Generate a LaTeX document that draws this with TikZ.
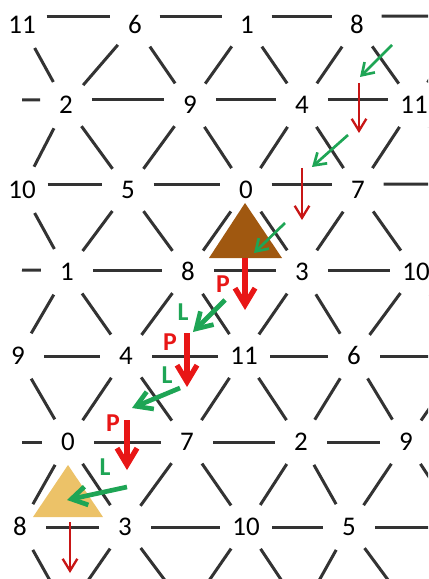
\documentclass[tikz,border=0pt]{standalone}
\usepackage{fontspec}
\setmainfont{Carlito}
\usetikzlibrary{arrows.meta}
\definecolor{lgreen}{RGB}{30,165,85}
\definecolor{pred}{RGB}{232,22,22}
\definecolor{dred}{RGB}{200,22,22}
\definecolor{chordbrown}{RGB}{160,88,16}
\definecolor{chordgold}{RGB}{236,194,104}
\tikzset{
  pc/.style     = {circle, inner sep=0pt, minimum size=15.6mm,
                   font=\fontsize{23}{23}\selectfont, text height=5.2mm, text depth=0pt},
  link/.style   = {line width=0.9mm, black!80},
  lthin/.style  = {lgreen, line width=0.8mm, -{Straight Barb[length=3.4mm,width=4.4mm]}},
  pthin/.style  = {dred, line width=0.7mm, -{Straight Barb[length=3.6mm,width=4.4mm]}},
  lthick/.style = {lgreen, line width=1.4mm, -{Straight Barb[length=4.6mm,width=5.6mm]}},
  pthick/.style = {pred, line width=1.6mm, -{Straight Barb[length=5mm,width=6mm]}},
  plab/.style   = {font=\fontsize{22}{22}\selectfont\bfseries, text=pred, inner sep=0pt},
  llab/.style   = {font=\fontsize{22}{22}\selectfont\bfseries, text=lgreen, inner sep=0pt},
}

\begin{document}
\begin{tikzpicture}[x=0.3mm,y=-0.3mm]
\useasboundingbox (0,0) rectangle (428,579);
\clip (0,0) rectangle (428,579);
% ---------- pitch classes ----------
\node[pc] (n00) at (22,25)  {11};
\node[pc] (n01) at (135,25) {6};
\node[pc] (n02) at (247,25) {1};
\node[pc] (n03) at (357,25) {8};
\coordinate (n04) at (468,16);
\node[pc] (n10) at (66,105)  {2};
\node[pc] (n11) at (190,105) {9};
\node[pc] (n12) at (302,105) {4};
\node[pc] (n13) at (414,105) {11};
\coordinate (s1) at (22,100);
\node[pc] (n20) at (22,190)  {10};
\node[pc] (n21) at (128,190) {5};
\node[pc] (n22) at (246,190) {0};
\node[pc] (n23) at (358,190) {7};
\coordinate (n24) at (470,184);
\node[pc] (n30) at (67,272)  {1};
\node[pc] (n31) at (188,272) {8};
\node[pc] (n32) at (302,272) {3};
\node[pc] (n33) at (416,272) {10};
\coordinate (s3) at (22,270);
\node[pc] (n40) at (18,356)  {9};
\node[pc] (n41) at (126,356) {4};
\node[pc] (n42) at (244,356) {11};
\node[pc] (n43) at (354,356) {6};
\coordinate (n44) at (466,356);
\node[pc] (n50) at (68,442)  {0};
\node[pc] (n51) at (187,442) {7};
\node[pc] (n52) at (301,442) {2};
\node[pc] (n53) at (406,442) {9};
\coordinate (s5) at (22,442);
\node[pc] (n60) at (20,527)  {8};
\node[pc] (n61) at (125,527) {3};
\node[pc] (n62) at (246,527) {10};
\node[pc] (n63) at (349,527) {5};
\coordinate (n64) at (462,527);
\coordinate (n70) at (67,611);
\coordinate (n71) at (188,611);
\coordinate (n72) at (302,611);
\coordinate (n73) at (411,611);
% ---------- lattice ----------
\foreach \r/\t/\u in {0/20/160,1/11/169,2/13/167,3/4/176,4/0/180,5/0/180,6/0/180}
  \foreach \c/\k in {0/1,1/2,2/3}
    \draw[link] (n\r\c.\t) -- (n\r\k.\u);
\foreach \r/\t in {0/20,2/13,4/0,6/0} \draw[link] (n\r3.\t) -- (n\r4);
\foreach \r/\u in {1/169,3/176,5/180} \draw[link] (s\r) -- (n\r0.\u);
\foreach \e/\o in {0/1,2/1,2/3,4/3,4/5,6/5,6/7}
  \foreach \c/\k in {0/1,1/2,2/3,3/4}
    \draw[link] (n\e\c) -- (n\o\c) (n\e\k) -- (n\o\c);
% ---------- chords ----------
\fill[chordbrown] (245,203) -- (209,258) -- (282,258) -- cycle;
\fill[chordgold] (68,465) -- (33,517) -- (103,517) -- cycle;
% ---------- moves ----------
\foreach \n/\x/\y in {a1/392/45, b1/360/77, a2/359/83, b2/359/133,
    a3/348/135, b3/312/167, a4/302/168, b4/302/220, a5/285/223, b5/254/253,
    a6/245/258, b6/245/310, a7/225/300, b7/193/332, a8/187/333, b8/187/387,
    a9/180/388, b9/132/408, a10/127/420, b10/127/470, a11/127/487, b11/67/500,
    a12/70/522, b12/70/573}
  \coordinate (\n) at (\x,\y);
\foreach \m in {1,3,5} \draw[lthin] (a\m) -- (b\m);
\foreach \m in {2,4,12} \draw[pthin] (a\m) -- (b\m);
\foreach \m in {7,9,11} \draw[lthick] (a\m) -- (b\m);
\foreach \m in {6,8,10} \draw[pthick] (a\m) -- (b\m);
\node[plab] (p1) at (223,284) {P};
\node[llab] (l1) at (183,312) {L};
\node[plab] (p2) at (170,342) {P};
\node[llab] (l2) at (167,375) {L};
\node[plab] (p3) at (113,423) {P};
\node[llab] (l3) at (105,467) {L};
\end{tikzpicture}
\end{document}
